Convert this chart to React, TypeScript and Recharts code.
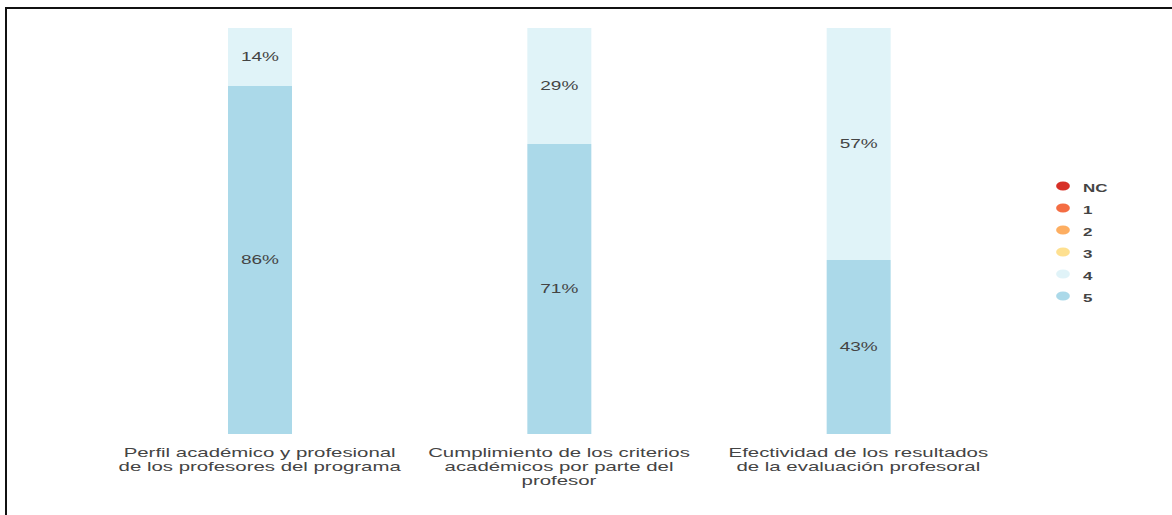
import React from 'react';
import { BarChart, Bar, XAxis, YAxis, LabelList } from 'recharts';

// categories (line breaks as in the original axis labels)
const categories = [
  'Perfil académico y profesional\nde los profesores del programa',
  'Cumplimiento de los criterios\nacadémicos por parte del\nprofesor',
  'Efectividad de los resultados\nde la evaluación profesoral',
];

// legend order, top to bottom
const seriesNames = ['NC', '1', '2', '3', '4', '5'];
const seriesColors = ['#d73027', '#f46d43', '#fdae61', '#fee090', '#e0f3f8', '#abd9e9'];

// percentages per category
const valuesNC = [0, 0, 0];
const values1 = [0, 0, 0];
const values2 = [0, 0, 0];
const values3 = [0, 0, 0];
const values4 = [14.29, 28.57, 57.14];
const values5 = [85.71, 71.43, 42.86];

const seriesValues = [valuesNC, values1, values2, values3, values4, values5];

const data = categories.map((name, i) => {
  const row: Record<string, string | number> = { name };
  seriesNames.forEach((s, k) => {
    row[s] = seriesValues[k][i];
  });
  return row;
});

// the reference is stretched horizontally
const SX = 1.6;
const FONT = '"Liberation Sans", Arial, sans-serif';
const TEXT = '#444';

const CategoryTick = (props: any) => {
  const { x, y, payload } = props;
  const lines = String(payload.value).split('\n');
  return (
    <g transform={`translate(${x},${y})`}>
      {lines.map((line, i) => (
        <text
          key={i}
          transform={`translate(0,${23 + i * 14}) scale(${SX},1)`}
          textAnchor="middle"
          fontSize={12.75}
          fontFamily={FONT}
          fill={TEXT}
        >
          {line}
        </text>
      ))}
    </g>
  );
};

const renderPct = (props: any) => {
  const { x, y, width, height, value } = props;
  if (!value) return null;
  const cx = Number(x) + Number(width) / 2;
  const cy = Number(y) + Number(height) / 2;
  return (
    <text
      transform={`translate(${cx},${cy + 4.3}) scale(${SX},1)`}
      textAnchor="middle"
      fontSize={11.9}
      fontFamily={FONT}
      fill={TEXT}
    >
      {`${Math.round(Number(value))}%`}
    </text>
  );
};

const LegendBox = () => (
  <svg width={80} height={140} style={{ position: 'absolute', left: 1050, top: 175 }}>
    {seriesNames.map((s, i) => (
      <g key={s}>
        <ellipse cx={13} cy={11 + i * 22} rx={4.3 * SX} ry={4.5} fill={seriesColors[i]} />
        <text
          transform={`translate(33,${17 + i * 22}) scale(${SX},1)`}
          fontSize={10.6}
          fontWeight="bold"
          fontFamily={FONT}
          fill={TEXT}
        >
          {s}
        </text>
      </g>
    ))}
  </svg>
);

export default function App() {
  // bottom of stack first
  const stackOrder = seriesNames.map((s, i) => ({ s, c: seriesColors[i] })).reverse();
  return (
    <div
      style={{
        position: 'fixed',
        left: 0,
        top: 0,
        width: 1172,
        height: 515,
        overflow: 'hidden',
        background: '#fff',
      }}
    >
      <div
        style={{
          position: 'absolute',
          left: 5,
          top: 7,
          width: 1250,
          height: 600,
          border: '2px solid #111',
        }}
      />
      <div style={{ position: 'absolute', left: 0, top: 0 }}>
        <BarChart
          width={1172}
          height={515}
          data={data}
          margin={{ top: 28, right: 164, left: 110, bottom: 0 }}
        >
          <XAxis
            dataKey="name"
            axisLine={false}
            tickLine={false}
            tickSize={0}
            tickMargin={0}
            height={81}
            interval={0}
            tick={<CategoryTick />}
          />
          <YAxis hide domain={[0, 100]} />
          {stackOrder.map(({ s, c }) => (
            <Bar key={s} dataKey={s} stackId="a" fill={c} barSize={64} isAnimationActive={false}>
              <LabelList dataKey={s} content={renderPct} />
            </Bar>
          ))}
        </BarChart>
      </div>
      <LegendBox />
    </div>
  );
}
